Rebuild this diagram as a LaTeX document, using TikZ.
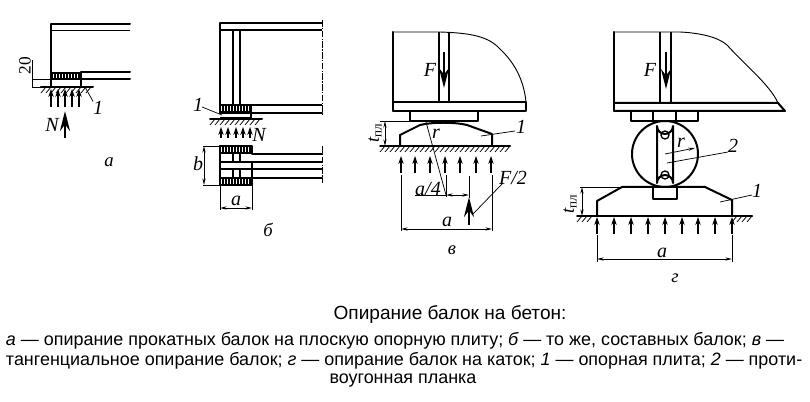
\documentclass[tikz,border=0pt]{standalone}
\usepackage{fontspec}
\setmainfont{Liberation Serif}
\newfontfamily\capfont{Liberation Sans}
\usetikzlibrary{arrows.meta}
\tikzset{
 x=0.75pt,y=-0.75pt,
 every node/.style={inner sep=0pt,outer sep=0pt},
 heavy/.style={line width=1.5pt,line cap=round,line join=round},
 medium/.style={line width=1pt,line join=round},
 light/.style={line width=0.55pt},
 load/.style={line width=0.8pt,-{Stealth[length=6pt,width=4pt]}},
 bigload/.style={line width=2pt,-{Stealth[length=15pt,width=7.5pt]}},
 dim/.style={line width=0.55pt,{Stealth[length=5pt,width=2.4pt]}-{Stealth[length=5pt,width=2.4pt]}},
 cut/.style={line width=0.55pt,dash pattern=on 5pt off 1pt on 1pt off 1pt},
 lab/.style={font=\fontsize{15}{16}\selectfont\itshape},
 sublab/.style={font=\fontsize{14}{15}\selectfont\itshape},
 smallcap/.style={font=\fontsize{14}{15}\selectfont\itshape},
 caption/.style={font=\capfont\fontsize{13.45}{15}\selectfont,anchor=west},
}
% ground hatching: x1, x2, y
\newcommand{\groundhatch}[3]{%
 \foreach \hx in {#1,\numexpr#1+5\relax,...,#2}{\draw[light] (\hx+4,#3) -- (\hx-1,#3+6);}}
% toothed block: x1, x2, y1, y2
\newcommand{\toothblock}[4]{%
 \draw[medium] (#1,#3) rectangle (#2,#4);
 \foreach \hx in {#1,\numexpr#1+3\relax,...,#2}{\draw[line width=1.2pt] (\hx,#3) -- (\hx,#4);}}
\begin{document}
\begin{tikzpicture}
\useasboundingbox (0,0) rectangle (810,402);
\fill[white] (0,0) rectangle (810,402);

%%% panel a
\draw[heavy] (130,24) -- (51,24) -- (51,79);
\draw[medium] (51,30.5) -- (130,30.5);
\draw[heavy] (81,72) -- (130,72);
\draw[heavy] (81,79) -- (130,79);
\toothblock{52}{81}{73}{79}
\draw[heavy] (51,79) -- (81,79) -- (81,87);
\draw[medium] (51,79) -- (51,87);
\draw[heavy] (41,87) -- (93,87);
\groundhatch{42}{90}{87}
\draw[light] (32,60) -- (32,87);
\draw[light] (32,79) -- (51,79);
\draw[light] (32,87) -- (45,87);
\node[rotate=90,font=\fontsize{13}{14}\selectfont] (a20) at (25,66) {20};
\foreach \ax in {51,58,65,72,79}{\draw[load] (\ax,107) -- (\ax,89);}
\draw[bigload] (65,138) -- (65,111);
\node[lab] (aN) at (52,125) {N};
\node[lab] (a1) at (98,108) {1};
\coordinate (a1t) at (85,87);
\draw[light] (a1t) -- (a1.north west);
\node[smallcap] (acap) at (109,162) {а};

%%% panel b
\draw[heavy] (322,23) -- (220,23) -- (220,113);
\draw[medium] (220,30) -- (322,30);
\draw[medium] (233,30) -- (233,105) (240,30) -- (240,105);
\draw[cut] (322,20) -- (322,116);
\toothblock{220}{251}{105}{112}
\draw[medium] (251,105) -- (322,105);
\draw[heavy] (220,113) -- (322,113);
\draw[medium] (220,118) -- (251,118) -- (251,113);
\draw[heavy] (210,119) -- (262,119);
\groundhatch{211}{258}{119}
\foreach \ax in {221,228,236,243,250}{\draw[load] (\ax,138) -- (\ax,127);}
\node[lab] (bN) at (259,135) {N};
\node[lab] (b1) at (198,105) {1};
\coordinate (b1t) at (222,115);
\draw[light] (b1) ++(4,2) -- (b1t);
% plan
\toothblock{220}{252}{146}{153}
\toothblock{220}{252}{178}{185}
\draw[heavy] (220,146) -- (220,185);
\draw[heavy] (252,154) -- (322,154);
\draw[medium] (220,162) -- (322,162);
\draw[medium] (220,169) -- (322,169);
\draw[heavy] (252,178) -- (322,178);
\draw[medium] (233,153) -- (233,162) (240,153) -- (240,162);
\draw[medium] (233,169) -- (233,178) (240,169) -- (240,178);
\draw[medium] (252,162) -- (252,178);
\draw[cut] (322,146) -- (322,183);
\draw[light] (203,146) -- (220,146) (203,185) -- (220,185);
\draw[dim] (204,146) -- (204,185);
\node[lab] (bb) at (198,164) {b};
\draw[light] (220,185) -- (220,210) (252,185) -- (252,210);
\draw[dim] (220,208) -- (252,208);
\node[lab] (ba) at (236,201) {a};
\node[smallcap] (bcap) at (268,230) {б};

%%% panel v
\draw[heavy] (393,111) -- (393,32);
\draw[line width=0.7pt] (393,32) -- (440,32) .. controls (470,33) and (488,36) .. (500,49) .. controls (516,64) and (524,82) .. (526,102);
\draw[heavy] (393,102) -- (526,102) -- (526,111) -- (393,111);
\draw[medium] (439,32) -- (439,102) (449,32) -- (449,102);
\draw[bigload] (444,52) -- (444,88);
\node[lab] (vF) at (430,70) {F};
\draw[medium] (410,111) -- (410,121) -- (478,121) -- (478,111);
\draw[heavy] (400,146) -- (400,135) -- (420,125) .. controls (432,122) and (455,122) .. (467,125) -- (492,134) -- (492,146);
\draw[heavy] (380,146) -- (510,146);
\groundhatch{381}{506}{146}
\foreach \ax in {401,415,430,445,460,476,491}{\draw[load] (\ax,173) -- (\ax,156);}
\draw[light] (380,121) -- (410,121) (380,146) -- (400,146);
\draw[dim] (385,121) -- (385,146);
\node[sublab,rotate=90] (vt) at (375,133) {t\textsubscript{\upshape пл}};
\coordinate (vrs) at (426,122);
\coordinate (vre) at (446,195);
\draw[light] (vre) -- (vrs);
\node[lab] (vr) at (436,134) {r};
\node[lab] (v1) at (521,127) {1};
\coordinate (v1s) at (481,136);
\draw[light] (v1s) -- (515,131);
\node[lab] (va4) at (428,189) {a/4};
\draw[light] (415,195) -- (446,195);
\draw[light] (446,175) -- (446,197) (469,176) -- (469,198);
\draw[dim] (446,195) -- (469,195);
\draw[bigload] (469,225) -- (469,197);
\node[lab] (vF2) at (513,178) {F/2};
\coordinate (vF2s) at (472,215);
\draw[light] (vF2s) -- (503,183);
\draw[light] (401,175) -- (401,231) (492,175) -- (492,231);
\draw[dim] (401,229) -- (492,229);
\node[lab] (va) at (447,222) {a};
\node[smallcap] (vcap) at (452,250) {в};

%%% panel g
\draw[heavy] (614,111) -- (614,32);
\draw[line width=0.7pt] (614,32) -- (680,32) .. controls (700,33) and (718,37) .. (727,45) .. controls (745,65) and (770,85) .. (778,103);
\draw[heavy] (614,103) -- (778,103) -- (785,111) -- (614,111);
\draw[medium] (660,32) -- (660,103) (671,32) -- (671,103);
\draw[bigload] (666,52) -- (666,89);
\node[lab] (gF) at (650,70) {F};
\draw[medium] (631,111) -- (631,121) -- (698,121) -- (698,111);
\draw[medium] (653,111) -- (653,121) (676,111) -- (676,121);
\draw[medium] (653,188) -- (653,199) -- (677,199) -- (677,188);
\draw[heavy] (665,154) circle[radius=33];
\draw[heavy,fill=white] (657,126) arc[start angle=180,end angle=0,radius=8] -- (673,183) arc[start angle=0,end angle=-180,radius=8] -- cycle;
\draw[medium] (665,135) circle[radius=4] (665,175) circle[radius=4];
\draw[heavy] (597,216) -- (597,201) -- (622,187) -- (705,187) -- (732,200) -- (732,216);
\draw[heavy] (577,216) -- (752,216);
\groundhatch{578}{592}{216}
\groundhatch{733}{748}{216}
\foreach \ax in {597,614,631,648,665,682,698,715,732}{\draw[load] (\ax,234) -- (\ax,217);}
\draw[light] (580,187) -- (622,187);
\draw[dim] (582,187) -- (582,216);
\node[sublab,rotate=90] (gt) at (570,204) {t\textsubscript{\upshape пл}};
\coordinate (grs) at (665,154);
\coordinate (gre) at (695,148);
\draw[line width=0.55pt,-{Stealth[length=5pt,width=2.4pt]}] (grs) -- (gre);
\node[lab] (gr) at (681,143) {r};
\node[lab] (g2) at (733,146) {2};
\coordinate (g2s) at (667,163);
\draw[light] (g2s) -- (728,152);
\node[lab] (g1) at (757,191) {1};
\coordinate (g1s) at (720,202);
\draw[light] (g1s) -- (752,195);
\draw[light] (597,235) -- (597,262) (732,235) -- (732,262);
\draw[dim] (597,259) -- (732,259);
\node[lab] (ga) at (662,253) {a};
\node[smallcap] (gcap) at (675,278) {г};

%%% caption
\node[font=\capfont\fontsize{14.3}{15}\selectfont] (title) at (450,314) {Опирание балок на бетон:};
\node[caption] (l1) at (6,341) {{\itshape а} — опирание прокатных балок на плоскую опорную плиту; {\itshape б} — то же, составных балок; {\itshape в} —};
\node[caption] (l2) at (6,361) {тангенциальное опирание балок; {\itshape г} — опирание балок на каток; {\itshape 1} — опорная плита; {\itshape 2} — проти-};
\node[font=\capfont\fontsize{13.45}{15}\selectfont] (l3) at (403,381) {воугонная планка};
\end{tikzpicture}
\end{document}
